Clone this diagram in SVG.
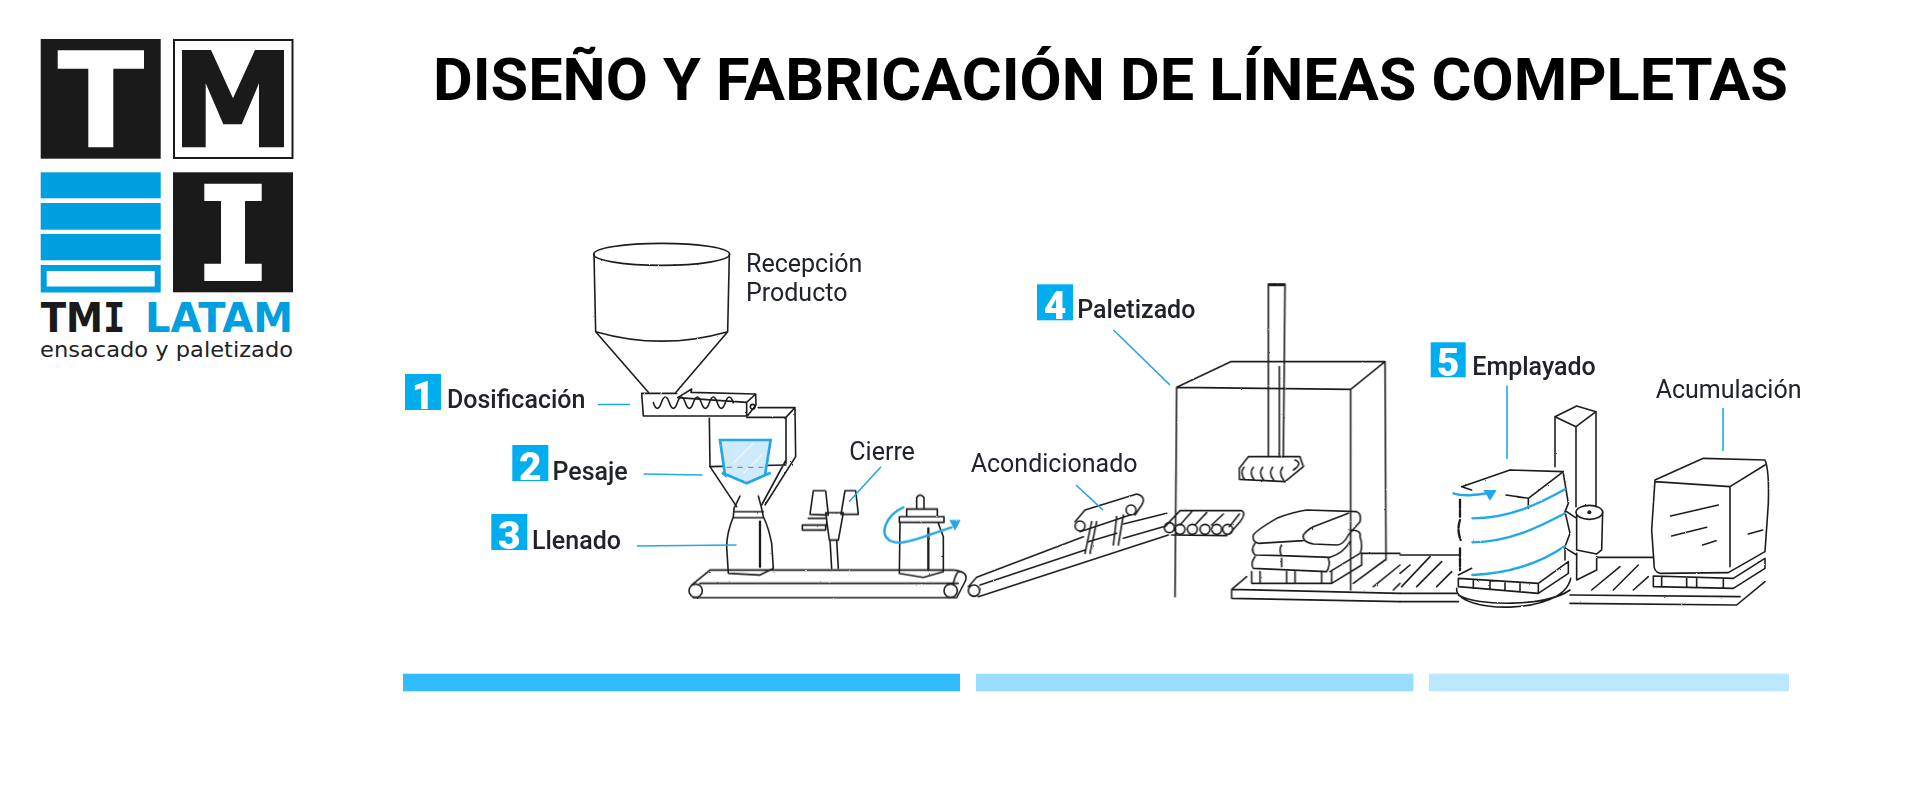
<svg xmlns="http://www.w3.org/2000/svg" width="1920" height="800" viewBox="0 0 1920 800">
<style>
.k{fill:#1a1a1a}.b{fill:#009fdf}.w{fill:#fff}
.sq{fill:#00aeef}.dg{font:900 39px Roboto,sans-serif;fill:#fff;text-anchor:middle}
.lm{font:500 25px Roboto,sans-serif;fill:#20222e}
.lr{font:400 25px Roboto,sans-serif;fill:#20222e}
.l{fill:none;stroke:#1e1e1e;stroke-width:4.8;stroke-linecap:round;stroke-linejoin:round}
.t{stroke-width:7}
.c{fill:none;stroke:#22a8ea;stroke-width:1.6}
.f{fill:none;stroke:#22a8ea;stroke-width:7;stroke-linecap:round}
.h{fill:#22a8ea}
</style>
<defs>
<filter id="sk" x="-2%" y="-2%" width="104%" height="104%"><feTurbulence type="fractalNoise" baseFrequency="0.25" numOctaves="2" seed="4"/><feDisplacementMap in="SourceGraphic" scale="1.6"/></filter>
</defs>
<rect width="1920" height="800" fill="#fff"/>
<g id="logo">
<rect class="k" x="40.7" y="39" width="120" height="119.7"/>
<polygon class="w" points="57.7,50.3 144,50.3 144,68.7 113.3,68.7 113.3,147.3 88.3,147.3 88.3,68.7 57.7,68.7"/>
<rect x="174" y="40" width="118.5" height="118" fill="#fff" stroke="#1a1a1a" stroke-width="2"/>
<polygon class="k" points="182,50 211,50 233,98.3 255,50 284,50 284,147.3 259,147.3 259,83.3 241.7,124.3 223.3,124.3 205.7,83.3 205.7,147.3 182,147.3"/>
<rect class="b" x="40.7" y="172.3" width="120" height="26"/>
<rect class="b" x="40.7" y="203" width="120" height="26.7"/>
<rect class="b" x="40.7" y="234" width="120" height="26.3"/>
<rect x="43.7" y="268" width="114" height="21.5" fill="#fff" stroke="#009fdf" stroke-width="6"/>
<rect class="k" x="173" y="172.3" width="120" height="120"/>
<polygon class="w" points="204.3,183.7 261.7,183.7 261.7,201 245,201 245,263.7 261.7,263.7 261.7,281 204.3,281 204.3,263.7 221,263.7 221,201 204.3,201"/>
<text transform="translate(40.7 331.7) scale(.93 1)" style="font:700 40px 'DejaVu Sans',sans-serif;fill:#1a1a1a">TM<tspan style="font-family:'DejaVu Sans Mono',monospace">I</tspan></text>
<text x="145" y="331.7" textLength="148" lengthAdjust="spacingAndGlyphs" style="font:700 40px 'DejaVu Sans',sans-serif;fill:#009fdf">LATAM</text>
<text x="40" y="356.5" textLength="253" lengthAdjust="spacingAndGlyphs" style="font:400 21.5px 'DejaVu Sans',sans-serif;fill:#222">ensacado y paletizado</text>
</g>
<text id="title" x="433" y="100" textLength="1355" lengthAdjust="spacingAndGlyphs" style="font:700 60px Roboto,sans-serif;fill:#000">DISEÑO Y FABRICACIÓN DE LÍNEAS COMPLETAS</text>

<g id="art" filter="url(#sk)">
<g id="dosing-hopper" transform="translate(390 230) scale(.33333)">
<ellipse class="l" cx="815" cy="73" rx="204" ry="33"/>
<path class="l" d="M612 73L617 305L775 487M1018 73L1013 305L858 487M617 305Q815 362 1013 305"/>
<path class="l" d="M755 490H860M755 490L760 558H1070V517L863 503L905 477L903 487L1097 492L1098 525L1072 558M1070 517L1097 492"/>
<circle class="l" cx="1088" cy="530" r="7"/>
<path class="l" d="M790 518q12 34 24 0t24 0 24 0 24 0 24 0 24 0 24 0 24 0 24 0 24 0"/>
<path class="l" d="M958 565L960 710M1188 565V700M1105 533H1215L1185 565M1070 562H1188M1215 535L1217 680L1125 825M1188 690L1115 825M960 710L1188 705"/>
<path d="M990 630H1142L1125 735 1142 728 1070 760 996 728 1005 735Z" fill="#cfeafb" stroke="#22a8ea" stroke-width="8"/>
<path d="M1030 700L1090 640M1060 730L1120 670" stroke="#fff" stroke-width="3"/>
<path d="M1010 712H1120" fill="none" stroke="#777" stroke-width="3" stroke-dasharray="16 16"/>
<path class="l" d="M960 710L1040 830" />
</g>
<g id="filling" transform="translate(680 420) scale(.33333)">
<path class="l" d="M180 228L162 265L160 290Q140 340 140 380L145 460L240 465L280 445L275 370Q265 320 250 290L245 265L235 228M165 275H250M160 293H250"/>
<path class="l t" d="M240 305V440"/>
<path class="l" d="M400 212H437L445 285L390 283ZM495 212H527L535 283H483ZM437 278H490L475 360H448ZM450 360L455 445M470 360L475 445M367 315H437V330H367ZM385 295H440V315"/>
<path class="l" d="M658 290H792V307H658ZM680 290V267H772V290M710 267V232Q720 218 732 232V267M660 310L658 460L730 472L790 455L790 350L775 310"/>
<path class="l t" d="M745 325V450"/>
<path class="l" d="M90 450H820Q870 455 855 485L830 533H40M90 450L35 495M60 490H835"/>
<circle class="l" cx="47" cy="512" r="20" fill="#fff"/><circle class="l" cx="812" cy="512" r="20" fill="#fff"/>
<path class="f" d="M670 262C620 285 595 340 630 362C660 378 700 360 815 322"/>
<polygon class="h" points="808,300 842,300 825,332"/>
</g>
<g id="conveyor-pallet" transform="translate(960 270) scale(.33333)">
<circle class="l" cx="42" cy="962" r="17"/>
<path class="l" d="M25 950L50 922L370 800M490 762L620 730M60 945L375 840M490 805L610 770M55 980L625 795M-20 940Q-10 900 0 905"/>
<path class="l" d="M375 720L530 672Q560 680 545 705L525 735M360 785L510 735M375 720L345 755"/>
<circle class="l" cx="360" cy="768" r="15"/><circle class="l" cx="513" cy="720" r="15"/>
<path class="l" d="M395 755L375 850M410 755L390 850M470 740L460 825M490 735L475 825M385 815L470 790"/>
<path class="l" d="M660 722H845Q860 730 840 755L810 790M660 722L615 770M635 795L800 797M695 725L660 765M740 728L705 765M790 732L755 765M838 732L808 770"/>
<circle class="l" cx="628" cy="773" r="15"/><circle class="l" cx="660" cy="778" r="15"/><circle class="l" cx="697" cy="778" r="15"/><circle class="l" cx="735" cy="778" r="15"/><circle class="l" cx="770" cy="778" r="15"/><circle class="l" cx="803" cy="778" r="15"/>
<path class="l" d="M650 352L1172 358M650 352L645 980M1172 358V960M650 352L812 275H1275L1172 358M1275 275L1278 870"/>
<path class="l" d="M925 42V560M975 42L970 560M958 290V560M925 42H975"/>
<path class="l t" d="M928 45H970"/>
<path class="l" d="M865 560H1020L1030 590L975 635L838 628V595ZM852 592Q838 610 855 630M880 592Q866 610 883 630M908 592Q894 610 911 630M938 592Q924 610 941 630M968 592Q954 610 971 630M1005 570Q1030 580 1000 600"/>
<path class="l" d="M880 795Q890 780 950 745Q1000 725 1040 720L1190 725Q1205 730 1200 755L1165 795Q1150 825 1130 825L1060 822Q1025 815 1030 795Q1040 780 1060 770L1165 730M880 795Q875 815 895 820L1030 812M885 820Q870 840 885 855L965 857Q955 840 965 825M965 857L1110 862Q1150 850 1170 815M885 860Q870 880 880 895L1100 905Q1112 885 1105 865M965 865V890M1170 780Q1205 780 1200 800Q1210 830 1200 850L1110 905"/>
<path class="l" d="M875 905V940H1115L1205 885V850M900 905V940M980 905V940M1005 905V940M1085 905V940M1115 905V940"/>
<path class="l" d="M815 958L860 920M815 958V985L1320 995M815 958L1320 970M1205 850H1320M1180 940L1275 870M1240 950L1320 885M1300 960L1320 940"/>
</g>
<g id="wrap-accum" transform="translate(1400 330) scale(.33333)">
<path class="l" d="M0 675H180M590 682H760M0 790H170M0 815H175M510 795L1020 800M510 820L1010 825L1095 755"/>
<path class="l" d="M0 730L30 705M5 770L90 680M50 770L125 695M110 770L155 725M175 735L215 715M575 780L660 710M640 780L715 705M700 780L745 740"/>
<path class="l" d="M170 775C165 850 490 860 512 745M175 795C230 830 440 830 510 780"/>
<path class="l" d="M175 745V770L415 790L505 730V695L415 760L175 745M220 750V775M270 752V778M315 755V782M360 758V786M415 760V790"/>
<path class="l" d="M185 470L330 420L490 425L385 505L318 495M370 503L350 500M215 480L185 470M385 505V535"/>
<path class="l t" d="M180 510V560M180 570Q170 600 182 630M180 655V720" stroke-dasharray="24 6"/>
<path class="l" d="M490 430L505 520L495 545L510 610L495 650V690"/>
<path class="l" d="M465 260L530 228L588 245L528 290ZM465 260V410M528 290V530M588 245V530M530 670V750L590 720V680"/>
<path class="l" d="M530 555V660L590 672L605 660L608 545M500 545L530 565M497 655L530 675"/>
<ellipse class="l" cx="568" cy="547" rx="40" ry="21"/><circle cx="568" cy="547" r="6" fill="#1e1e1e"/>
<path class="l" d="M765 450L910 385L1095 390Q1108 420 1105 520L1095 665L985 728L780 730Q760 725 762 700L755 600ZM765 455L990 470L1095 405M990 470V710"/>
<path class="l" d="M812 558L955 525M815 618L920 592M908 645L948 632M1045 612L1088 600"/>
<path class="l" d="M760 738V770L1000 775L1095 715V685L1000 745L760 738M785 740V770M860 742V772M890 742V772M970 745V775"/>
<path class="f" d="M217 565C330 565 420 520 495 478M217 637C330 635 420 590 495 550M217 735C330 730 420 700 495 648M160 490C190 500 220 495 260 490"/>
<polygon class="h" points="250,480 290,480 270,512"/>
</g>
</g>

<g id="connectors">
<path class="c" d="M598 404.500H630M643.500 474L702.500 475M637 546L736.500 545M881 466.700L849 501.700M1113.500 330L1170 385M1076 485L1103 510M1507 385.500V459M1723 408V451"/>
</g>

<g id="step-1"><rect class="sq" x="405" y="374" width="36" height="36"/><text class="dg" x="423" y="409">1</text><text class="lm" x="447" y="408">Dosificación</text></g>
<g id="step-2"><rect class="sq" x="512.300" y="445" width="36" height="36"/><text class="dg" x="530.300" y="480">2</text><text class="lm" x="552.500" y="480">Pesaje</text></g>
<g id="step-3"><rect class="sq" x="491.300" y="514" width="36" height="36"/><text class="dg" x="509.300" y="549">3</text><text class="lm" x="532" y="549">Llenado</text></g>
<g id="step-4"><rect class="sq" x="1037" y="284.300" width="36" height="36"/><text class="dg" x="1055" y="319">4</text><text class="lm" x="1077.300" y="318.300">Paletizado</text></g>
<g id="step-5"><rect class="sq" x="1430.700" y="342.300" width="35" height="35"/><text class="dg" x="1448" y="376">5</text><text class="lm" x="1472.300" y="375">Emplayado</text></g>
<g id="label-recepcion"><text class="lr" x="746" y="271.700">Recepción</text><text class="lr" x="746" y="301">Producto</text></g>
<g id="label-cierre"><text class="lr" x="849.300" y="460">Cierre</text></g>
<g id="label-acondicionado"><text class="lr" x="970.700" y="472.300">Acondicionado</text></g>
<g id="label-acumulacion"><text class="lr" x="1655.700" y="397.700">Acumulación</text></g>

<g id="bars">
<rect x="403" y="673.700" width="557" height="17.600" fill="#33bbff"/>
<rect x="976" y="673.700" width="437.500" height="17.600" fill="#99ddff"/>
<rect x="1429" y="673.700" width="360" height="17.600" fill="#bbe8ff"/>
</g>
</svg>
